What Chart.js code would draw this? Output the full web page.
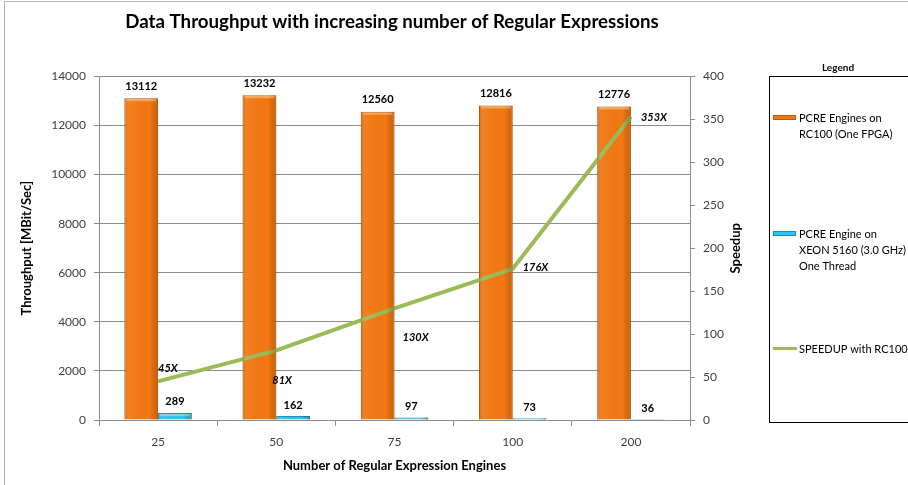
<!DOCTYPE html>
<html>
<head>
<meta charset="utf-8">
<script src="https://cdn.jsdelivr.net/npm/chart.js@4.4.1/dist/chart.umd.min.js"></script>
<style>
  html, body { margin: 0; padding: 0; background: #fff; }
</style>
</head>
<body>
<canvas id="chart" width="908" height="485"></canvas>
<script>
const categories = ['25', '50', '75', '100', '200'];
const fpgaThroughput = [13112, 13232, 12560, 12816, 12776];
const xeonThroughput = [289, 162, 97, 73, 36];
const speedup = [45, 81, 130, 176, 353];
const throughputRange = [0, 14000, 2000];   // min, max, step
const speedupRange = [0, 400, 50];

const FONT = 'Lato, "Open Sans", sans-serif';

// where each "NNX" label sits relative to its point
const speedupLabelOffsets = [[0, -13], [-4, 30], [8, 29], [10, -1], [10, 1]];

const decor = {
  id: 'decor',
  beforeDraw(chart) {
    const ctx = chart.ctx;
    ctx.save();
    ctx.fillStyle = '#fff';
    ctx.fillRect(0, 0, chart.width, chart.height);
    ctx.strokeStyle = '#b4b4b4';
    ctx.lineWidth = 1;
    ctx.strokeRect(4.5, 1.5, 1000, 1000);
    ctx.restore();
  },
  afterDatasetsDraw(chart) {
    const ctx = chart.ctx;
    ctx.save();
    // a bit of edge shading so the bars look rounded like the original
    [0, 1].forEach(di => {
      chart.getDatasetMeta(di).data.forEach(bar => {
        const l = bar.x - bar.width / 2, r = bar.x + bar.width / 2;
        const h = bar.base - bar.y;
        if (h < 1) return;
        const g = ctx.createLinearGradient(l, 0, r, 0);
        g.addColorStop(0, 'rgba(120,50,0,0.25)');
        g.addColorStop(0.15, 'rgba(255,255,255,0.05)');
        g.addColorStop(0.75, 'rgba(0,0,0,0)');
        g.addColorStop(1, 'rgba(120,50,0,0.3)');
        ctx.fillStyle = g;
        ctx.fillRect(l, bar.y, r - l, h);
        if (h > 4) {
          ctx.fillStyle = 'rgba(255,220,170,0.45)';
          ctx.fillRect(l + 2, bar.y + 1, r - l - 4, 2);
        }
      });
    });

    ctx.fillStyle = '#000';
    ctx.textAlign = 'center';
    ctx.textBaseline = 'middle';
    ctx.font = 'bold 11px ' + FONT;
    chart.getDatasetMeta(0).data.forEach((bar, i) => {
      ctx.fillText(String(fpgaThroughput[i]), bar.x, bar.y - 12);
    });
    chart.getDatasetMeta(1).data.forEach((bar, i) => {
      ctx.fillText(String(xeonThroughput[i]), bar.x, bar.y - 11);
    });

    ctx.font = 'italic bold 11px ' + FONT;
    ctx.textAlign = 'left';
    chart.getDatasetMeta(2).data.forEach((pt, i) => {
      const o = speedupLabelOffsets[i];
      ctx.fillText(speedup[i] + 'X', pt.x + o[0], pt.y + o[1]);
    });
    ctx.restore();
  },
  afterDraw(chart) {
    const ctx = chart.ctx;
    ctx.save();
    // right axis title reads bottom-to-top
    ctx.translate(736, chart.chartArea.top + (chart.chartArea.bottom - chart.chartArea.top) / 2);
    ctx.rotate(-Math.PI / 2);
    ctx.fillStyle = '#000';
    ctx.font = 'bold 13px ' + FONT;
    ctx.textAlign = 'center';
    ctx.textBaseline = 'middle';
    ctx.fillText('Speedup', 0, 0);
    ctx.restore();

    // legend box
    ctx.save();
    ctx.strokeStyle = '#000';
    ctx.lineWidth = 1;
    ctx.strokeRect(769.5, 76.5, 300, 346);
    ctx.fillStyle = '#000';
    ctx.font = 'bold 10px ' + FONT;
    ctx.textAlign = 'center';
    ctx.textBaseline = 'middle';
    ctx.fillText('Legend', 838, 68);

    ctx.font = '11px ' + FONT;
    ctx.textAlign = 'left';
    ctx.fillStyle = '#F07A12';
    ctx.fillRect(773, 115, 23, 5);
    ctx.strokeStyle = '#B85A0A';
    ctx.strokeRect(773.5, 115.5, 22, 4);
    ctx.fillStyle = '#000';
    ctx.fillText('PCRE Engines on', 799, 118);
    ctx.fillText('RC100 (One FPGA)', 799, 134);

    ctx.fillStyle = '#2CC6F0';
    ctx.fillRect(773, 231, 23, 5);
    ctx.strokeStyle = '#1B8DB5';
    ctx.strokeRect(773.5, 231.5, 22, 4);
    ctx.fillStyle = '#000';
    ctx.fillText('PCRE Engine on', 799, 234);
    ctx.fillText('XEON 5160 (3.0 GHz)', 799, 250);
    ctx.fillText('One Thread', 799, 266);

    ctx.strokeStyle = '#9BBB59';
    ctx.lineWidth = 3;
    ctx.beginPath();
    ctx.moveTo(773, 348.5);
    ctx.lineTo(797, 348.5);
    ctx.stroke();
    ctx.fillText('SPEEDUP with RC100', 799, 349);
    ctx.restore();
  }
};

const plainTick = v => String(v);

new Chart(document.getElementById('chart'), {
  data: {
    labels: categories,
    datasets: [
      {
        type: 'bar',
        label: 'PCRE Engines on RC100 (One FPGA)',
        data: fpgaThroughput,
        backgroundColor: '#F27812',
        borderColor: '#C4600C',
        borderWidth: 1,
        yAxisID: 'y',
        order: 2,
        categoryPercentage: 0.57,
        barPercentage: 1.0
      },
      {
        type: 'bar',
        label: 'PCRE Engine on XEON 5160 (3.0 GHz) One Thread',
        data: xeonThroughput,
        backgroundColor: '#2CC6F0',
        borderColor: '#1B8DB5',
        borderWidth: 1,
        yAxisID: 'y',
        order: 2,
        categoryPercentage: 0.57,
        barPercentage: 1.0
      },
      {
        type: 'line',
        label: 'SPEEDUP with RC100',
        data: speedup,
        borderColor: '#9BBB59',
        borderWidth: 4,
        pointRadius: 0,
        tension: 0,
        yAxisID: 'y1',
        order: 0
      }
    ]
  },
  options: {
    responsive: false,
    animation: false,
    devicePixelRatio: 1,
    layout: { padding: { left: 15, right: 139, top: 0, bottom: 0 } },
    plugins: {
      legend: { display: false },
      tooltip: { enabled: false },
      title: {
        display: true,
        text: 'Data Throughput with increasing number of Regular Expressions',
        color: '#000',
        font: { family: FONT, size: 18.7, weight: 'bold' },
        padding: { top: 11, bottom: 43 },
        align: 'center'
      }
    },
    scales: {
      x: {
        offset: true,
        grid: {
          offset: true,
          drawOnChartArea: false,
          drawTicks: true,
          tickLength: 6,
          color: '#8c8c8c'
        },
        border: { color: '#8c8c8c' },
        ticks: { color: '#404040', font: { family: FONT, size: 12 }, padding: 9 },
        title: {
          display: true,
          text: 'Number of Regular Expression Engines',
          color: '#000',
          font: { family: FONT, size: 13, weight: 'bold' },
          padding: { top: 0, bottom: 11 }
        },
        afterFit(s) { s.height = 65; }
      },
      y: {
        position: 'left',
        min: throughputRange[0],
        max: throughputRange[1],
        ticks: { stepSize: throughputRange[2], callback: plainTick, color: '#404040', font: { family: FONT, size: 12 }, padding: 8 },
        grid: { color: '#8c8c8c', tickLength: 5 },
        border: { color: '#8c8c8c' },
        title: {
          display: true,
          text: 'Throughput [MBit/Sec]',
          color: '#000',
          font: { family: FONT, size: 13, weight: 'bold' },
          padding: { top: 4, bottom: 0 }
        },
        afterFit(s) { s.width = 84; }
      },
      y1: {
        position: 'right',
        min: speedupRange[0],
        max: speedupRange[1],
        ticks: { stepSize: speedupRange[2], callback: plainTick, color: '#404040', font: { family: FONT, size: 12 }, padding: 8 },
        grid: { drawOnChartArea: false, color: '#8c8c8c', tickLength: 5 },
        border: { color: '#8c8c8c' },
        afterFit(s) { s.width = 79; }
      }
    }
  },
  plugins: [decor]
});
</script>
</body>
</html>
